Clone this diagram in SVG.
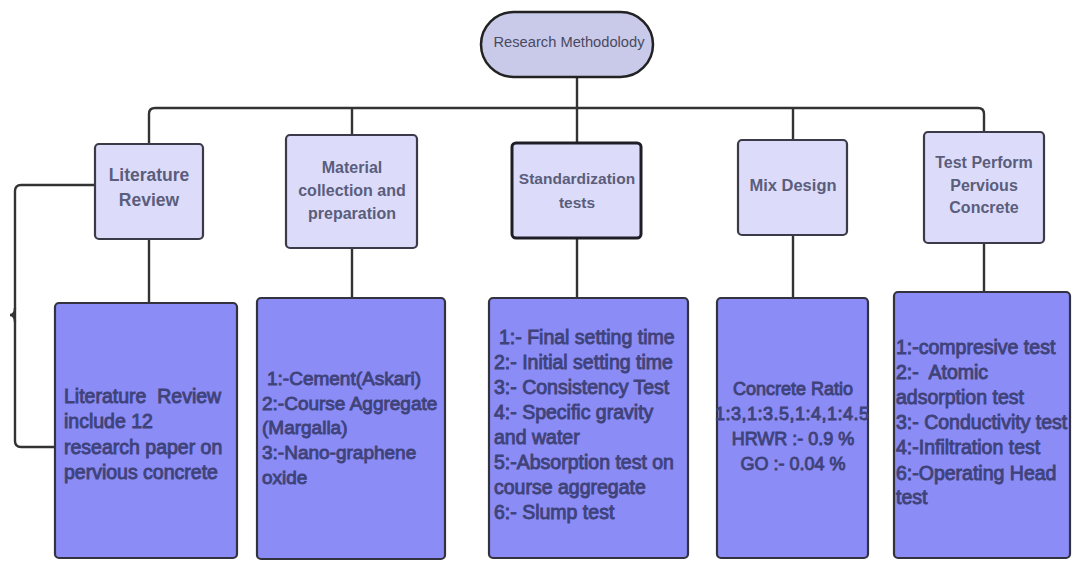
<svg xmlns="http://www.w3.org/2000/svg" width="1073" height="562" viewBox="0 0 1073 562">
<style>
.bg{fill:#ffffff}
.oval{fill:#c9c9ea;stroke:#222;stroke-width:2.5}
.head{fill:#dcdcfa;stroke:#3a3a48;stroke-width:2.2}
.head2{fill:#dcdcfa;stroke:#1e1e28;stroke-width:3}
.body{fill:#8b8cf6;stroke:#333340;stroke-width:2.2}
.conn{fill:none;stroke:#333;stroke-width:2.4}
.ht{font-family:"Liberation Sans",Arial,sans-serif;font-weight:bold;fill:#5b5d7c;text-anchor:middle}
.bt{font-family:"Liberation Sans",Arial,sans-serif;fill:#40437a;stroke:#40437a;stroke-width:0.9;white-space:pre}
.ot{font-family:"Liberation Sans",Arial,sans-serif;fill:#4a4a5e;text-anchor:middle;font-size:14.7px}
</style>
<rect class="bg" x="0" y="0" width="1073" height="562"/>
<g id="connectors">
<line class="conn" x1="577" y1="77" x2="577" y2="143"/>
<path class="conn" d="M149,144 V114 Q149,108 155,108 H978 Q984,108 984,114 V132"/>
<line class="conn" x1="352" y1="108" x2="352" y2="135"/>
<line class="conn" x1="793" y1="108" x2="793" y2="140"/>
<line class="conn" x1="149" y1="239" x2="149" y2="303"/>
<line class="conn" x1="352" y1="248" x2="352" y2="298"/>
<line class="conn" x1="577" y1="238" x2="577" y2="298"/>
<line class="conn" x1="793" y1="235" x2="793" y2="298"/>
<line class="conn" x1="984" y1="243" x2="984" y2="292"/>
<path class="conn" d="M95,185 H21 Q15,185 15,191 V441 Q15,447 21,447 H55"/>
<path class="conn" d="M15,308 Q15,315 10,315 Q15,315 15,322"/>
</g>
<g id="root">
<rect class="oval" x="481" y="12" width="172" height="65" rx="32.5"/>
<text class="ot" x="569" y="47">Research Methodolody</text>
</g>
<g id="literature-review">
<rect class="head" x="95" y="144" width="108" height="95" rx="4"/>
<text class="ht" font-size="17.5" x="149" y="181">Literature</text>
<text class="ht" font-size="17.5" x="149" y="206">Review</text>
</g>
<g id="material">
<rect class="head" x="286" y="135" width="131" height="113" rx="4"/>
<text class="ht" font-size="16" x="352" y="173">Material</text>
<text class="ht" font-size="16" x="352" y="196">collection and</text>
<text class="ht" font-size="16" x="352" y="219">preparation</text>
</g>
<g id="standardization">
<rect class="head2" x="512" y="143" width="129" height="95" rx="4"/>
<text class="ht" font-size="15.5" x="577" y="184">Standardization</text>
<text class="ht" font-size="15.5" x="577" y="208">tests</text>
</g>
<g id="mix-design">
<rect class="head" x="738" y="140" width="109" height="95" rx="4"/>
<text class="ht" font-size="16.5" x="793" y="191">Mix Design</text>
</g>
<g id="test-perform">
<rect class="head" x="924" y="132" width="120" height="111" rx="4"/>
<text class="ht" font-size="16" x="984" y="168">Test Perform</text>
<text class="ht" font-size="16" x="984" y="191">Pervious</text>
<text class="ht" font-size="16" x="984" y="213">Concrete</text>
</g>
<g id="literature-detail">
<rect class="body" x="55" y="303" width="182" height="255" rx="4"/>
<text class="bt" font-size="19.5" x="64" y="403">Literature  Review</text>
<text class="bt" font-size="19.5" x="64" y="428">include 12</text>
<text class="bt" font-size="19.5" x="64" y="454">research paper on</text>
<text class="bt" font-size="19.5" x="64" y="479">pervious concrete</text>
</g>
<g id="material-detail">
<rect class="body" x="257" y="298" width="188" height="261" rx="4"/>
<text class="bt" font-size="19" x="267" y="385">1:-Cement(Askari)</text>
<text class="bt" font-size="19" x="262" y="410">2:-Course Aggregate</text>
<text class="bt" font-size="19" x="262" y="434">(Margalla)</text>
<text class="bt" font-size="19" x="262" y="459">3:-Nano-graphene</text>
<text class="bt" font-size="19" x="262" y="484">oxide</text>
</g>
<g id="standardization-detail">
<rect class="body" x="489" y="298" width="199" height="260" rx="4"/>
<text class="bt" font-size="19.5" x="499" y="344">1:- Final setting time</text>
<text class="bt" font-size="19.5" x="494" y="369">2:- Initial setting time</text>
<text class="bt" font-size="19.5" x="494" y="394">3:- Consistency Test</text>
<text class="bt" font-size="19.5" x="494" y="419">4:- Specific gravity</text>
<text class="bt" font-size="19.5" x="494" y="444">and water</text>
<text class="bt" font-size="19.5" x="494" y="469">5:-Absorption test on</text>
<text class="bt" font-size="19.5" x="494" y="494">course aggregate</text>
<text class="bt" font-size="19.5" x="494" y="519">6:- Slump test</text>
</g>
<g id="mix-detail">
<rect class="body" x="717" y="298" width="151" height="260" rx="4"/>
<text class="bt" font-size="18" x="793" y="395" text-anchor="middle">Concrete Ratio</text>
<text class="bt" font-size="18" x="792" y="420" text-anchor="middle" textLength="154" lengthAdjust="spacing">1:3,1:3.5,1:4,1:4.5</text>
<text class="bt" font-size="18" x="793" y="445" text-anchor="middle">HRWR :- 0.9 %</text>
<text class="bt" font-size="18" x="793" y="470" text-anchor="middle">GO :- 0.04 %</text>
</g>
<g id="test-detail">
<rect class="body" x="894" y="292" width="176" height="266" rx="4"/>
<text class="bt" font-size="19.5" x="896" y="354">1:-compresive test</text>
<text class="bt" font-size="19.5" x="896" y="379">2:-  Atomic</text>
<text class="bt" font-size="19.5" x="896" y="404">adsorption test</text>
<text class="bt" font-size="19.5" x="896" y="429">3:- Conductivity test</text>
<text class="bt" font-size="19.5" x="896" y="454">4:-Infiltration test</text>
<text class="bt" font-size="19.5" x="896" y="480">6:-Operating Head</text>
<text class="bt" font-size="19.5" x="896" y="504">test</text>
</g>
</svg>
